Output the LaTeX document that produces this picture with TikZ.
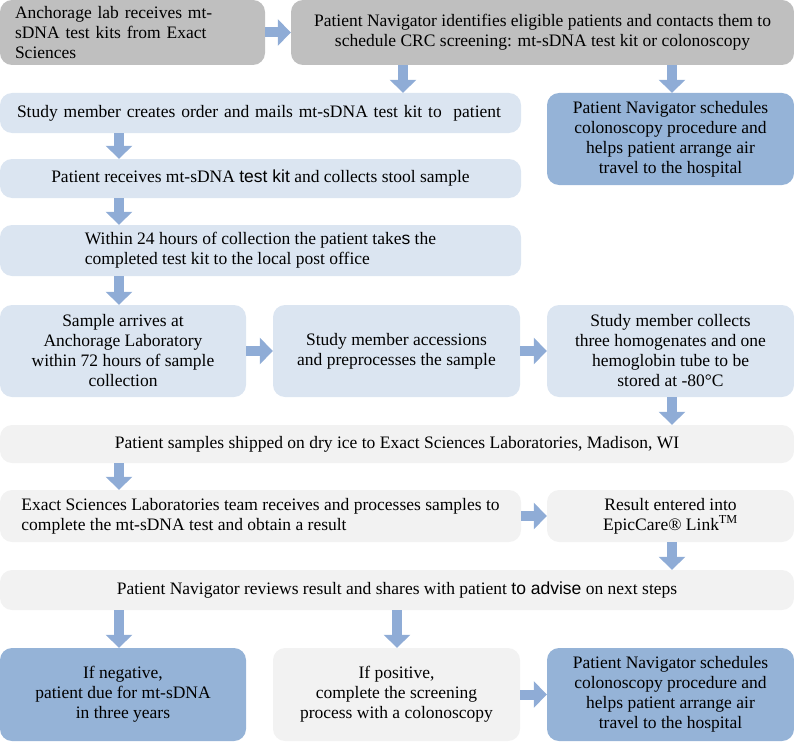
\documentclass[tikz,border=0pt]{standalone}
\usepackage{fontspec}
\setmainfont{Liberation Serif}
\newfontfamily\arialfont{Liberation Sans}
\usetikzlibrary{arrows.meta}
\definecolor{silver}{RGB}{191, 191, 191}
\definecolor{paleblue}{RGB}{219, 229, 241}
\definecolor{steelblue}{RGB}{149, 179, 215}
\definecolor{cloud}{RGB}{242, 242, 242}
\definecolor{arrowblue}{RGB}{143, 172, 214}
\tikzset{
    stepbox/.style={rectangle, rounded corners=12pt, inner sep=4pt, align=center,
                    font=\fontsize{17.5}{20}\selectfont},
    flow/.style={draw=arrowblue, line width=10pt, -{Triangle[width=26pt, length=13pt]}}
}

\begin{document}
\begin{tikzpicture}[x=1pt, y=-1pt]
            % Frame to fix the page size
            \useasboundingbox (0, 0) rectangle (794, 741);
            % Arrow lanes
            \coordinate (lane1) at (119, 0);
            \coordinate (lane2) at (403, 0);
            \coordinate (lane3) at (672, 0);
            \coordinate (lane4) at (397, 0);
            % Preparation
            \node[stepbox, fill=silver,    minimum width=265pt, minimum height=65pt, text width=235pt, align=left] (kits)     at (132.5, 32.5)
                 {Anchorage lab receives mt-\\sDNA test kits from Exact\\Sciences};
            \node[stepbox, fill=silver,    minimum width=503pt, minimum height=65pt] (navigator) at (542.5, 32.5)
                 {Patient Navigator identifies eligible patients and contacts them to\\schedule CRC screening: mt-sDNA test kit or colonoscopy};
            % Test kit branch
            \node[stepbox, fill=paleblue,  minimum width=521pt, minimum height=40pt, text width=487pt, align=left] (order) at (260.5, 113)
                 {Study member creates order and mails mt-sDNA test kit to~ patient};
            \node[stepbox, fill=paleblue,  minimum width=521pt, minimum height=39pt] (receive)   at (260.5, 178.5)
                 {Patient receives mt-sDNA {\arialfont test kit} and collects stool sample};
            \node[stepbox, fill=paleblue,  minimum width=521pt, minimum height=51pt, align=left] (post) at (260.5, 250.5)
                 {Within 24 hours of collection the patient take{\arialfont s} the\\completed test kit to the local post office};
            \node[stepbox, fill=paleblue,  minimum width=246pt, minimum height=92pt] (arrive)    at (123, 351)
                 {Sample arrives at\\Anchorage Laboratory\\within 72 hours of sample\\collection};
            \node[stepbox, fill=paleblue,  minimum width=247pt, minimum height=92pt] (accession) at (396.5, 351)
                 {Study member accessions\\and preprocesses the sample};
            \node[stepbox, fill=paleblue,  minimum width=247pt, minimum height=92pt] (store)     at (670.5, 351)
                 {Study member collects\\three homogenates and one\\hemoglobin tube to be\\stored at -80°C};
            % Colonoscopy branch
            \node[stepbox, fill=steelblue, minimum width=247pt, minimum height=92pt] (travel)    at (670.5, 139)
                 {Patient Navigator schedules\\colonoscopy procedure and\\helps patient arrange air\\travel to the hospital};
            % Laboratory
            \node[stepbox, fill=cloud,     minimum width=794pt, minimum height=38pt] (ship)      at (397, 444)
                 {Patient samples shipped on dry ice to Exact Sciences Laboratories, Madison, WI};
            \node[stepbox, fill=cloud,     minimum width=521pt, minimum height=52pt, align=left] (process) at (260.5, 516)
                 {Exact Sciences Laboratories team receives and processes samples to\\complete the mt-sDNA test and obtain a result};
            \node[stepbox, fill=cloud,     minimum width=247pt, minimum height=52pt] (epic)      at (670.5, 516)
                 {Result entered into\\EpicCare® Link\textsuperscript{TM}};
            \node[stepbox, fill=cloud,     minimum width=794pt, minimum height=40pt] (review)    at (397, 590)
                 {Patient Navigator reviews result and shares with patient {\arialfont to advise} on next steps};
            % Outcomes
            \node[stepbox, fill=steelblue, minimum width=246pt, minimum height=93pt] (negative)  at (123, 694.5)
                 {If negative,\\patient due for mt-sDNA\\in three years};
            \node[stepbox, fill=cloud,     minimum width=247pt, minimum height=93pt] (positive)  at (396.5, 694.5)
                 {If positive,\\complete the screening\\process with a colonoscopy};
            \node[stepbox, fill=steelblue, minimum width=247pt, minimum height=93pt] (followup)  at (670.5, 694.5)
                 {Patient Navigator schedules\\colonoscopy procedure and\\helps patient arrange air\\travel to the hospital};
            % Flow arrows
            \draw[flow] (kits.east)                -- (navigator.west);
            \draw[flow] (navigator.south -| lane2) -- (order.north -| lane2);
            \draw[flow] (navigator.south -| lane3) -- (travel.north -| lane3);
            \draw[flow] (order.south -| lane1)     -- (receive.north -| lane1);
            \draw[flow] (receive.south -| lane1)   -- (post.north -| lane1);
            \draw[flow] (post.south -| lane1)      -- (arrive.north -| lane1);
            \draw[flow] (arrive.east)              -- (accession.west);
            \draw[flow] (accession.east)           -- (store.west);
            \draw[flow] (store.south -| lane3)     -- (ship.north -| lane3);
            \draw[flow] (ship.south -| lane1)      -- (process.north -| lane1);
            \draw[flow] (process.east)             -- (epic.west);
            \draw[flow] (epic.south -| lane3)      -- (review.north -| lane3);
            \draw[flow] (review.south -| lane1)    -- (negative.north -| lane1);
            \draw[flow] (review.south -| lane4)    -- (positive.north -| lane4);
            \draw[flow] (positive.east)            -- (followup.west);
\end{tikzpicture}
\end{document}
